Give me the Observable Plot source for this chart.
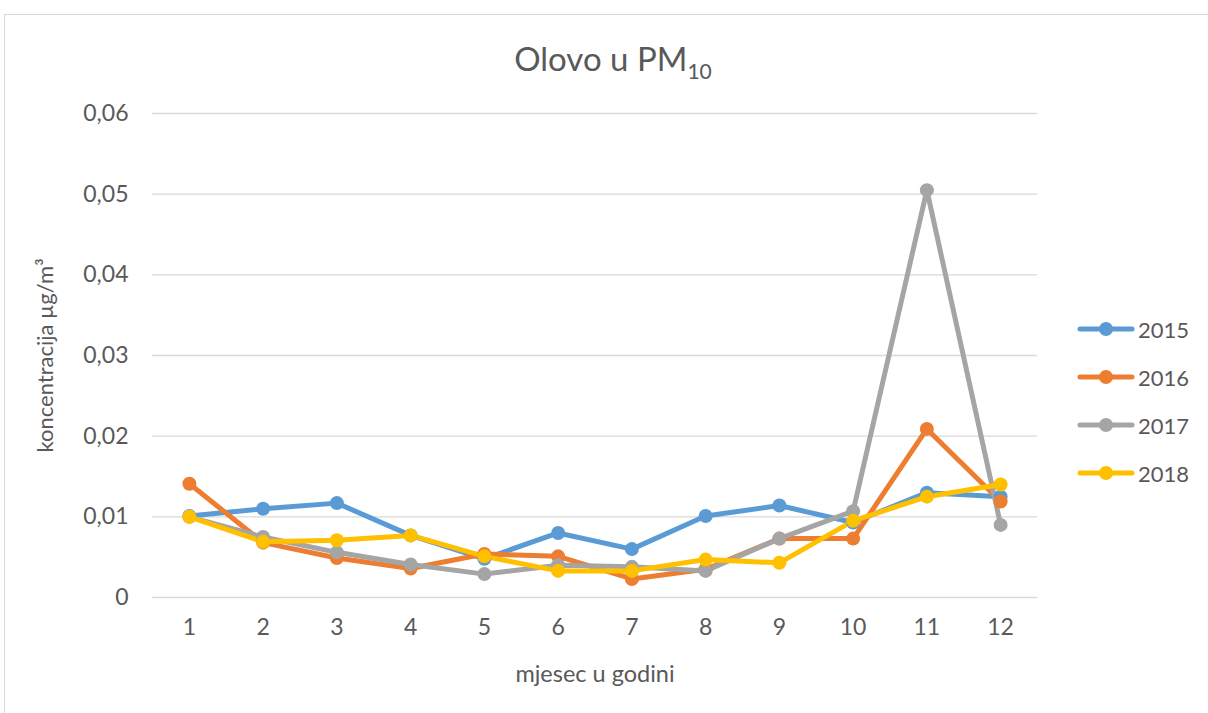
<!DOCTYPE html>
<html>
<head>
<meta charset="utf-8">
<script src="https://cdn.jsdelivr.net/npm/d3@7"></script>
<script src="https://cdn.jsdelivr.net/npm/@observablehq/plot@0.6"></script>
<style>
  body { margin: 0; background: #fff; }
  #wrap { position: relative; width: 1208px; height: 713px; overflow: hidden; font-family: Lato, "Open Sans", sans-serif; color: #595959; }
  #frame { position: absolute; left: 4px; top: 14px; width: 1220px; height: 720px; border: 1px solid #d9d9d9; box-sizing: border-box; }
  #title { position: absolute; left: 9px; width: 1208px; top: 38px; text-align: center; font-size: 33px; }
  #title sub { font-size: 21px; vertical-align: -8px; }
  #legend { position: absolute; left: 1077px; top: 305px; }
  .item { display: flex; align-items: center; height: 48px; font-size: 22px; }
  .item svg { margin-right: 3px; }
  #chart { position: absolute; left: 0; top: 0; }
</style>
</head>
<body>
<div id="wrap">
  <div id="frame"></div>
  <div id="chart"></div>
  <div id="title">Olovo u PM<sub>10</sub></div>
  <div id="legend"></div>
</div>
<script>
const months = [1,2,3,4,5,6,7,8,9,10,11,12];
const years = ["2015","2016","2017","2018"];
const colors = ["#5B9BD5","#ED7D31","#A5A5A5","#FFC000"];
const v2015 = [0.0101,0.0110,0.0117,0.0077,0.0048,0.0080,0.0060,0.0101,0.0114,0.0093,0.0130,0.0125];
const v2016 = [0.0141,0.0068,0.0049,0.0036,0.0054,0.0051,0.0023,0.0035,0.0073,0.0073,0.0209,0.0119];
const v2017 = [0.0100,0.0075,0.0056,0.0041,0.0029,0.0040,0.0038,0.0033,0.0073,0.0107,0.0505,0.0090];
const v2018 = [0.0100,0.0069,0.0071,0.0077,0.0051,0.0033,0.0033,0.0047,0.0043,0.0095,0.0125,0.0140];
const yTicks = [0,0.01,0.02,0.03,0.04,0.05,0.06];
const series = [v2015, v2016, v2017, v2018];

const data = [];
years.forEach((y, i) => months.forEach((m, j) => data.push({year: y, month: m, value: series[i][j]})));

const fmt = d => d === 0 ? "0" : d.toFixed(2).replace(".", ",");

const chart = Plot.plot({
  width: 1208,
  height: 713,
  marginLeft: 152,
  marginRight: 171,
  marginTop: 113,
  marginBottom: 116,
  style: {fontFamily: "Lato, 'Open Sans', sans-serif", color: "#595959", background: "transparent"},
  x: {domain: [0.5, 12.5]},
  y: {domain: [0, 0.06]},
  color: {domain: years, range: colors},
  marks: [
    Plot.gridY(yTicks, {stroke: "#d9d9d9", strokeOpacity: 1, strokeWidth: 1.3}),
    Plot.axisY(yTicks, {tickSize: 0, tickPadding: 24, tickFormat: fmt, fontSize: 23, fill: "#595959",
      label: "koncentracija µg/m³", labelAnchor: "center", labelArrow: "none", labelOffset: 115}),
    Plot.axisX(months, {tickSize: 0, tickPadding: 21, fontSize: 23, fill: "#595959",
      label: "mjesec u godini", labelAnchor: "center", labelArrow: "none", labelOffset: 84}),
    Plot.line(data, {x: "month", y: "value", z: "year", stroke: "year", strokeWidth: 5, strokeLinejoin: "round", strokeLinecap: "round"}),
    Plot.dot(data, {x: "month", y: "value", fill: "year", r: 7})
  ]
});
chart.querySelectorAll("g[aria-label='y-axis label'] text").forEach(t => t.setAttribute("font-size", "22"));
chart.querySelectorAll("g[aria-label='x-axis label'] text").forEach(t => t.setAttribute("font-size", "23.5"));
document.getElementById("chart").appendChild(chart);

const legend = document.getElementById("legend");
years.forEach((y, i) => {
  const div = document.createElement("div");
  div.className = "item";
  div.innerHTML = `<svg width="58" height="16"><line x1="3" y1="8" x2="55" y2="8" stroke="${colors[i]}" stroke-width="5" stroke-linecap="round"/><circle cx="29" cy="8" r="7" fill="${colors[i]}"/></svg><span>${y}</span>`;
  legend.appendChild(div);
});
</script>
</body>
</html>
